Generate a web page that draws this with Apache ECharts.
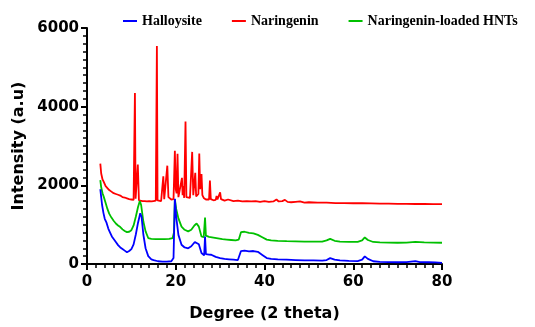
<!DOCTYPE html>
<html>
<head>
<meta charset="utf-8">
<script src="https://cdn.jsdelivr.net/npm/echarts@6/dist/echarts.min.js"></script>
<style>html,body{margin:0;padding:0;background:#fff}#c{width:535px;height:327px}</style>
</head>
<body>
<div id="c"></div>
<script>
var seriesNames = ['Halloysite', 'Naringenin', 'Naringenin-loaded HNTs'];
var xTicks = [0, 20, 40, 60, 80];
var yTicks = [0, 2000, 4000, 6000];

var halloysite = [
[3.0,1900],[3.2,1700],[3.4,1500],[3.7,1300],[4.0,1150],[4.4,1050],[4.8,900],[5.2,800],[5.6,700],[6.0,650],[6.5,560],[7.0,480],[7.5,420],[8.0,380],[8.5,340],[9.0,300],[9.5,330],[10.0,380],[10.5,500],[11.0,750],[11.5,1050],[12.0,1290],[12.3,1200],[12.7,750],[13.2,400],[13.8,200],[14.5,120],[15,100],[16,70],[17,60],[18,60],[19,70],[19.5,150],[19.8,1660],[20.1,1200],[20.6,740],[21.3,490],[22,420],[22.8,400],[23.5,450],[24.3,560],[24.7,610],[25.2,500],[25.8,280],[26.4,220],[26.6,700],[26.8,250],[27.5,240],[28,235],[29,180],[30,150],[31,130],[32,120],[33,110],[34,100],[34.3,150],[34.7,330],[35.5,340],[36.5,320],[37.5,330],[38.5,310],[39.5,230],[40.5,150],[41.5,130],[43,120],[45,110],[47,100],[49,90],[51,90],[53,85],[54,100],[54.8,150],[55.8,110],[57,90],[59,80],[61,75],[62,110],[62.6,195],[63.3,130],[64.5,70],[66,55],[68,50],[70,45],[72,50],[74,75],[75,50],[77,45],[78.5,40],[80,30]
];
var naringenin = [
[3.0,2550],[3.2,2300],[3.5,2150],[3.8,2080],[4.2,1980],[4.6,1930],[5.0,1880],[5.5,1840],[6.0,1800],[6.5,1780],[7.0,1760],[7.5,1740],[8.0,1700],[8.5,1690],[9.0,1670],[9.5,1650],[10.0,1640],[10.5,1630],[10.65,1650],[10.8,4350],[10.95,1660],[11.2,1640],[11.45,2530],[11.7,1620],[12.0,1610],[12.5,1600],[13,1600],[13.5,1590],[14,1600],[14.5,1590],[15.0,1600],[15.5,1610],[15.6,1620],[15.75,5540],[15.9,1620],[16.2,1600],[16.7,1600],[17.0,1620],[17.2,2230],[17.4,1650],[17.8,1640],[18.1,2500],[18.35,1700],[18.7,1660],[19.0,1640],[19.5,1650],[19.65,1700],[19.8,2880],[20.0,1900],[20.2,1800],[20.4,2800],[20.6,1700],[21.0,1650],[21.4,2190],[21.55,1750],[21.7,1980],[21.9,1680],[22.05,1700],[22.2,3620],[22.4,1700],[22.8,1650],[23.2,1680],[23.5,1700],[23.7,2850],[23.95,1750],[24.2,1700],[24.4,2320],[24.6,1720],[24.9,1750],[25.1,1780],[25.3,2810],[25.5,1900],[25.8,2290],[26.0,1750],[26.3,1680],[26.8,1640],[27.2,1620],[27.5,1640],[27.7,2120],[27.9,1650],[28.5,1620],[29.0,1630],[29.2,1730],[29.4,1640],[29.85,1650],[30.0,1820],[30.2,1650],[31,1610],[31.8,1640],[32.2,1610],[33,1600],[34,1610],[35,1590],[36,1600],[37,1590],[38,1600],[39,1580],[40,1600],[41,1580],[42,1590],[42.7,1640],[43.2,1590],[44.0,1600],[44.6,1630],[45.2,1580],[46,1570],[47,1580],[48,1590],[49,1560],[50,1570],[52,1560],[54,1560],[56,1550],[58,1550],[60,1545],[62,1545],[64,1540],[66,1535],[68,1535],[70,1530],[72,1530],[74,1525],[76,1525],[78,1520],[80,1520]
];
var loaded = [
[3.0,2130],[3.2,1950],[3.5,1800],[3.8,1700],[4.2,1550],[4.6,1400],[5.0,1280],[5.5,1180],[6.0,1100],[6.5,1030],[7.0,980],[7.5,940],[8.0,880],[8.5,840],[9.0,810],[9.5,820],[10.0,860],[10.5,980],[11.0,1200],[11.5,1450],[11.9,1600],[12.2,1500],[12.7,1080],[13.2,830],[13.8,660],[14.5,640],[15.5,630],[16.5,630],[17.5,630],[18.5,640],[19.3,660],[19.6,800],[19.8,1650],[20.1,1400],[20.6,1160],[21.3,950],[22,870],[22.8,830],[23.5,870],[24.2,980],[24.7,1030],[25.2,950],[25.8,700],[26.3,680],[26.6,1180],[26.8,720],[27.5,690],[28.5,670],[29.5,650],[30.5,630],[31.5,620],[32.5,610],[33.5,600],[34.2,620],[34.7,810],[35.5,820],[36.5,790],[37.5,780],[38.5,740],[39.5,680],[40.5,620],[41.5,600],[43,590],[45,580],[47,575],[49,570],[51,570],[53,570],[54,600],[54.8,640],[55.8,590],[57,570],[59,560],[61,565],[62,600],[62.6,675],[63.3,610],[64.5,560],[66,550],[68,545],[70,540],[72,545],[74,560],[76,550],[78,545],[80,540]
];

var colors = ['#0000ff', '#ff0000', '#00c000'];
var chart = echarts.init(document.getElementById('c'), null, {renderer: 'canvas'});
var axisFont = {fontFamily: 'DejaVu Sans', fontWeight: 'bold', fontSize: 15, color: '#000'};
chart.setOption({
  animation: false,
  color: colors,
  legend: {
    top: 9, left: 118,
    itemWidth: 14, itemHeight: 2, itemGap: 30,
    icon: 'rect',
    textStyle: {fontFamily: 'Liberation Serif', fontWeight: 'bold', fontSize: 14, color: '#000'},
    data: seriesNames
  },
  grid: {left: 87, right: 93, top: 28, bottom: 61, containLabel: false},
  xAxis: {
    type: 'value', min: xTicks[0], max: xTicks[xTicks.length-1], interval: 20,
    name: 'Degree (2 theta)', nameLocation: 'middle', nameGap: 42,
    nameTextStyle: {fontFamily: 'DejaVu Sans', fontWeight: 'bold', fontSize: 16, color: '#000'},
    axisLine: {lineStyle: {color: '#000', width: 2}},
    axisTick: {length: 6, lineStyle: {color: '#000', width: 2}},
    minorTick: {show: true, splitNumber: 10, length: 4, lineStyle: {color: '#000', width: 1.5}},
    axisLabel: Object.assign({margin: 11, formatter: function (v) { return String(v); }}, axisFont),
    splitLine: {show: false}
  },
  yAxis: {
    type: 'value', min: yTicks[0], max: yTicks[yTicks.length-1], interval: 2000,
    name: 'Intensity (a.u)', nameLocation: 'middle', nameGap: 53,
    nameTextStyle: {fontFamily: 'DejaVu Sans', fontWeight: 'bold', fontSize: 16, color: '#000'},
    axisLine: {show: true, lineStyle: {color: '#000', width: 2}},
    axisTick: {show: true, length: 6, lineStyle: {color: '#000', width: 2}},
    minorTick: {show: true, splitNumber: 10, length: 4, lineStyle: {color: '#000', width: 1.5}},
    axisLabel: Object.assign({margin: 8, formatter: function (v) { return String(v); }}, axisFont),
    splitLine: {show: false}
  },
  series: [
    {name: seriesNames[0], type: 'line', data: halloysite, showSymbol: false, symbol: 'none', lineStyle: {width: 1.8, color: colors[0]}, z: 3},
    {name: seriesNames[1], type: 'line', data: naringenin, showSymbol: false, symbol: 'none', lineStyle: {width: 1.8, color: colors[1]}, z: 1},
    {name: seriesNames[2], type: 'line', data: loaded, showSymbol: false, symbol: 'none', lineStyle: {width: 1.8, color: colors[2]}, z: 2}
  ]
});
</script>
</body>
</html>
